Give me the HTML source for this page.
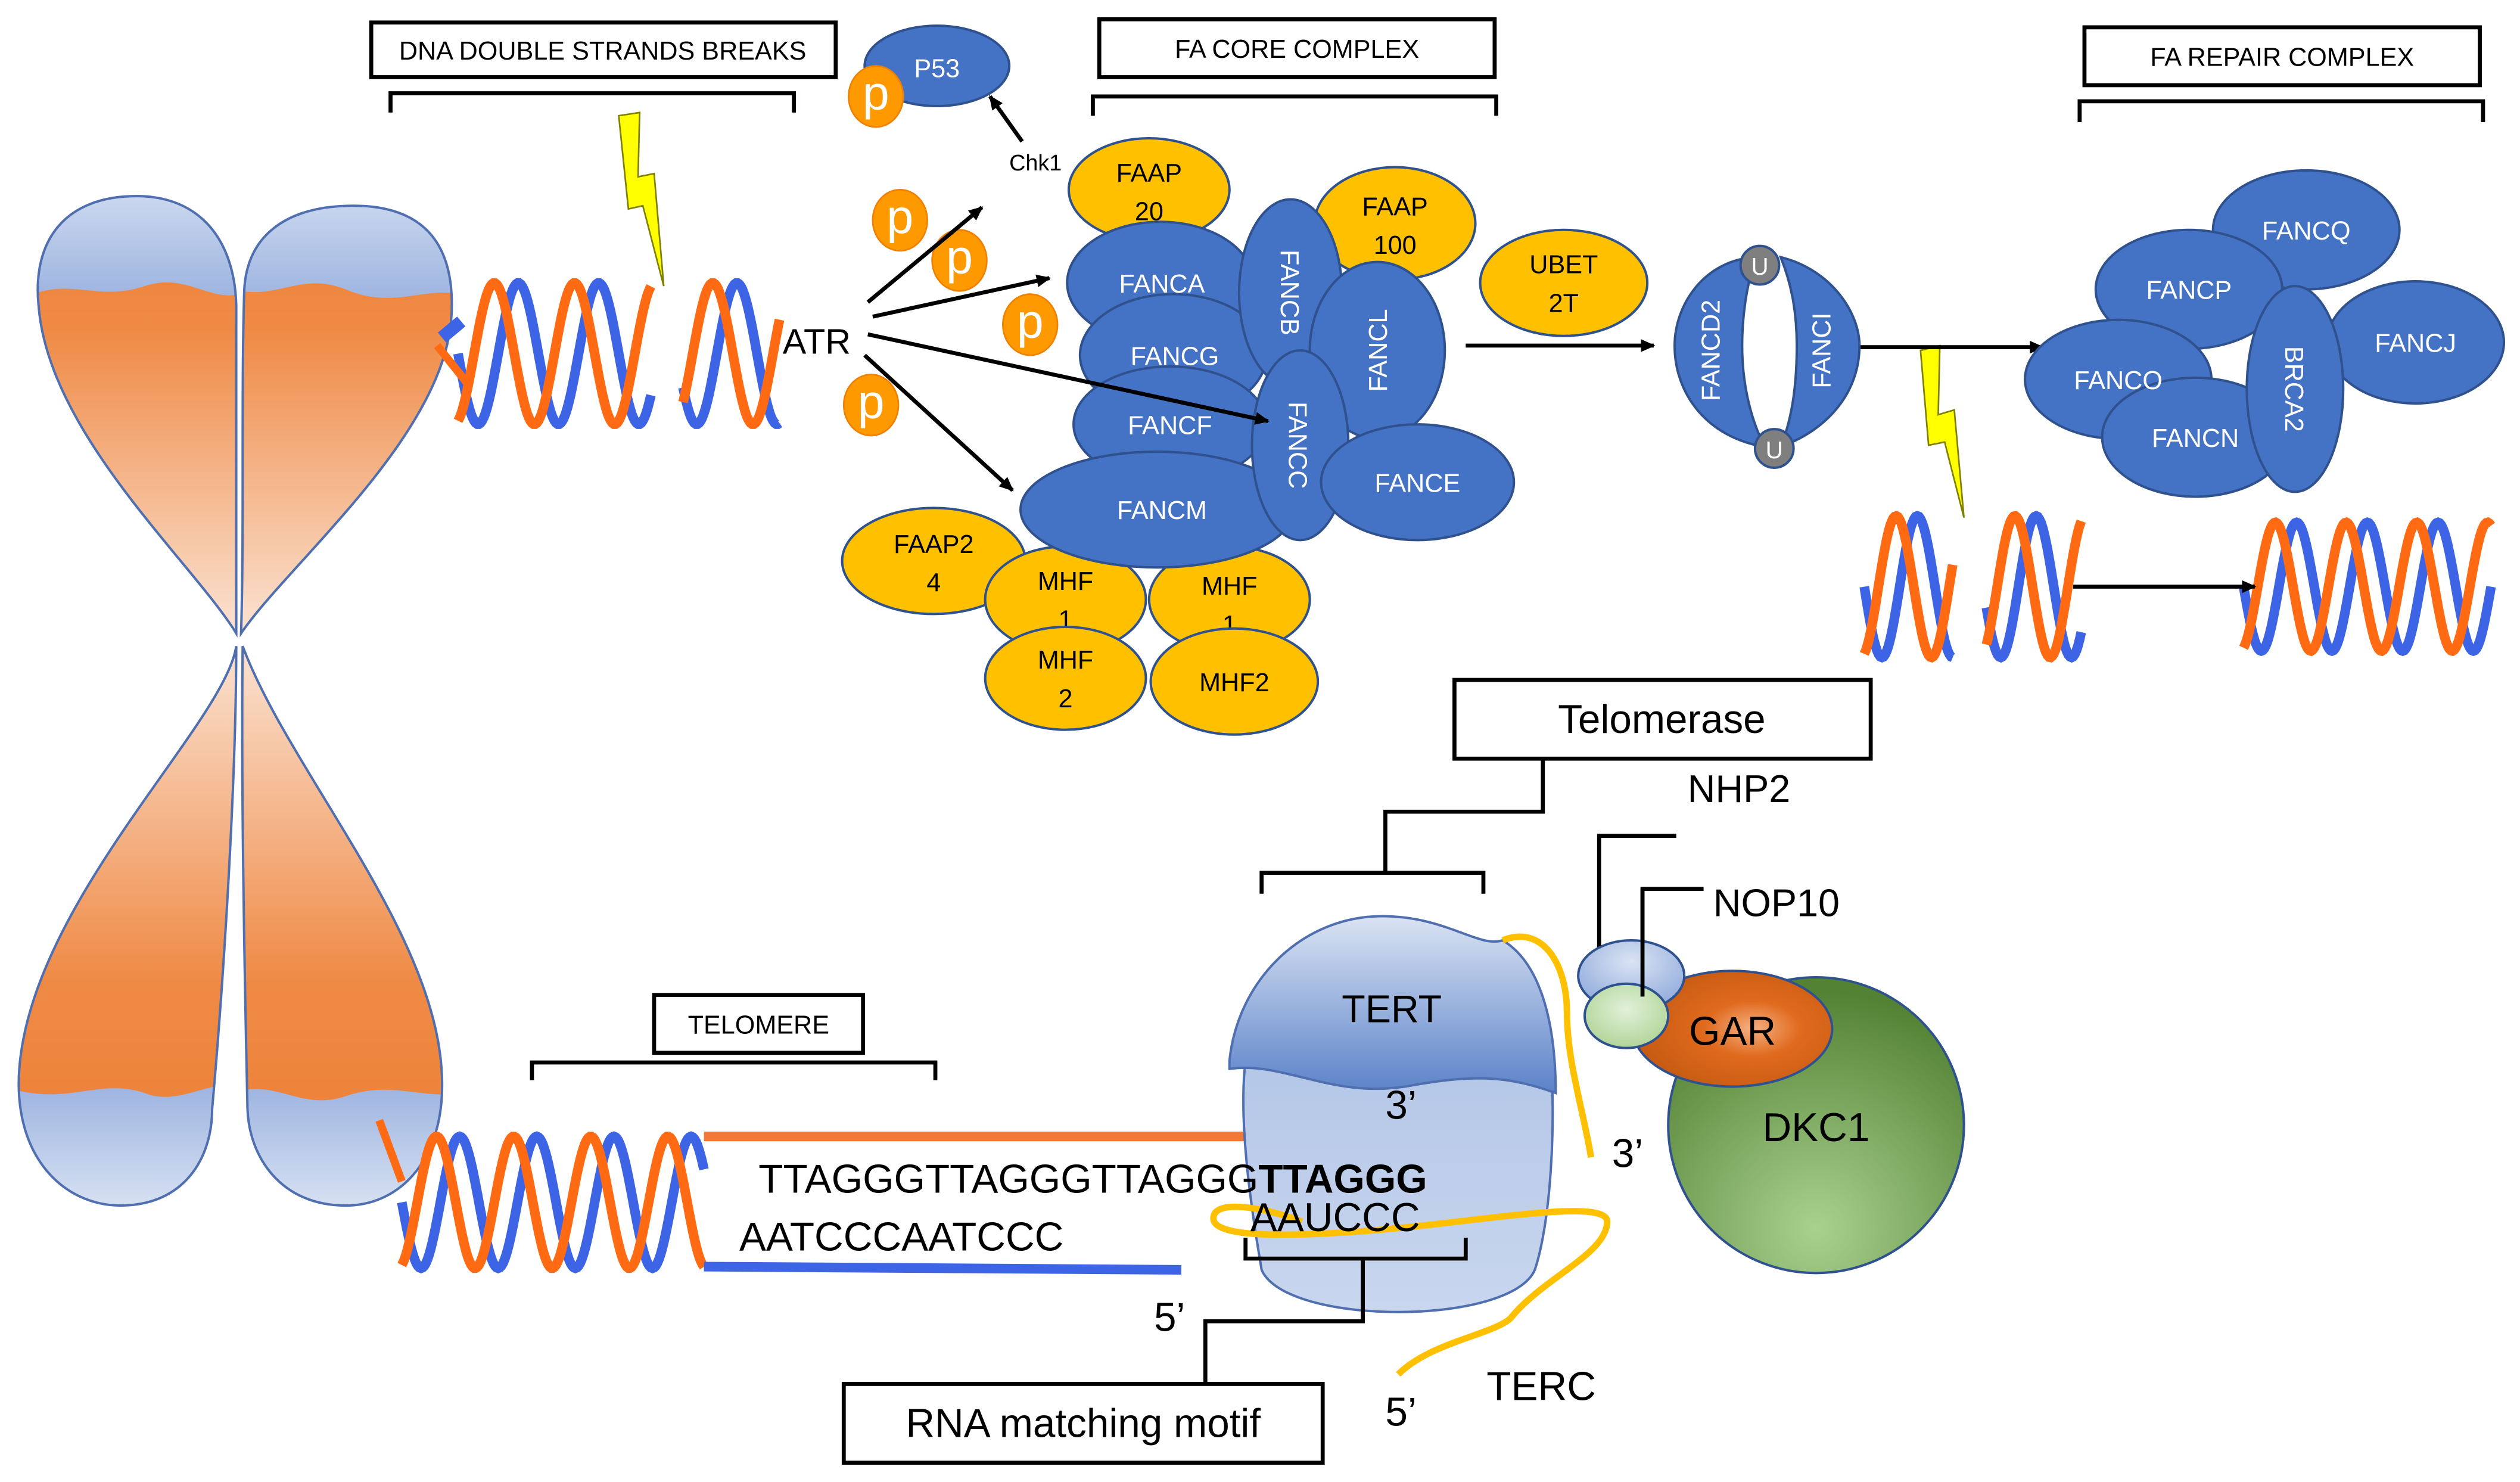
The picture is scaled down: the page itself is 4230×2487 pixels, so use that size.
<!DOCTYPE html>
<html><head><meta charset="utf-8"><style>
html,body{margin:0;padding:0;background:#fff}
svg{display:block}
text{font-family:"Liberation Sans",sans-serif}
</style></head><body>
<svg id="s" width="4230" height="2487" viewBox="0 0 1568 922" preserveAspectRatio="none" xmlns="http://www.w3.org/2000/svg">
<defs>
<linearGradient id="ou" x1="0" y1="0" x2="0" y2="1"><stop offset="0" stop-color="#ed7d31"/><stop offset="0.35" stop-color="#ef8a45"/><stop offset="1" stop-color="#fbe5d6"/></linearGradient>
<linearGradient id="ol" x1="0" y1="1" x2="0" y2="0"><stop offset="0" stop-color="#ed7d31"/><stop offset="0.4" stop-color="#ef8a45"/><stop offset="1" stop-color="#fbe5d6"/></linearGradient>
<linearGradient id="bc" x1="0" y1="0" x2="0" y2="1"><stop offset="0" stop-color="#dae3f3"/><stop offset="1" stop-color="#9db4e0"/></linearGradient>
<linearGradient id="bc2" x1="0" y1="1" x2="0" y2="0"><stop offset="0" stop-color="#dae3f3"/><stop offset="1" stop-color="#9db4e0"/></linearGradient>
<linearGradient id="tert" x1="0" y1="0" x2="0" y2="1"><stop offset="0" stop-color="#dae3f3"/><stop offset="1" stop-color="#5b82c9"/></linearGradient>
<linearGradient id="tert2" x1="0" y1="0" x2="0" y2="1"><stop offset="0" stop-color="#b4c7e7"/><stop offset="1" stop-color="#c9d6ee"/></linearGradient>
<radialGradient id="dk" cx="0.5" cy="0.85" r="0.8"><stop offset="0" stop-color="#a9d18e"/><stop offset="1" stop-color="#548235"/></radialGradient>
<radialGradient id="gar" cx="0.6" cy="0.5" r="0.6"><stop offset="0" stop-color="#f4b183"/><stop offset="0.4" stop-color="#e06a1e"/><stop offset="1" stop-color="#c55a11"/></radialGradient>
<radialGradient id="sb" cx="0.5" cy="0.3" r="0.7"><stop offset="0" stop-color="#dae3f3"/><stop offset="1" stop-color="#8faadc"/></radialGradient>
<radialGradient id="sg" cx="0.5" cy="0.4" r="0.7"><stop offset="0" stop-color="#e2f0d9"/><stop offset="1" stop-color="#a9d18e"/></radialGradient>
<marker id="ar" markerWidth="10" markerHeight="10" refX="8" refY="5" orient="auto" markerUnits="userSpaceOnUse"><path d="M0,1 L9,5 L0,9 Z" fill="#000"/></marker>
<clipPath id="c1"><path d="M147,394 C120,350 30,270 24,190 C20,150 40,122 85,122 C125,122 146,150 147,190 Z"/></clipPath>
<clipPath id="c2"><path d="M150,394 C152,330 150,240 152,180 C154,145 180,128 220,128 C262,128 283,150 281,195 C278,270 180,350 150,394 Z"/></clipPath>
<clipPath id="c3"><path d="M147,402 C140,450 20,560 12,665 C8,720 40,750 75,750 C115,750 132,720 132,690 C140,600 147,480 147,402 Z"/></clipPath>
<clipPath id="c4"><path d="M151,402 C180,480 272,580 275,670 C277,720 250,750 215,750 C175,750 155,720 154,690 C152,600 150,480 151,402 Z"/></clipPath>
</defs>

<g stroke="none">
<g clip-path="url(#c1)"><rect x="0" y="100" width="160" height="300" fill="url(#ou)"/><path d="M10,100 H160 V178 C135,195 120,168 90,178 C60,188 45,172 15,185 Z" fill="url(#bc)"/></g>
<g clip-path="url(#c2)"><rect x="140" y="100" width="160" height="300" fill="url(#ou)"/><path d="M140,100 H300 V188 C270,172 250,195 215,180 C185,168 170,190 140,178 Z" fill="url(#bc)"/></g>
<g clip-path="url(#c3)"><rect x="0" y="395" width="160" height="360" fill="url(#ol)"/><path d="M0,755 H160 V680 C135,665 115,690 90,680 C60,670 40,690 0,675 Z" fill="url(#bc2)"/></g>
<g clip-path="url(#c4)"><rect x="140" y="395" width="160" height="360" fill="url(#ol)"/><path d="M140,755 H300 V675 C270,690 250,670 215,682 C185,692 170,668 140,682 Z" fill="url(#bc2)"/></g>
</g>
<g fill="none" stroke="#4f6fb0" stroke-width="1.5">
<path d="M147,394 C120,350 30,270 24,190 C20,150 40,122 85,122 C125,122 146,150 147,190 Z"/>
<path d="M150,394 C152,330 150,240 152,180 C154,145 180,128 220,128 C262,128 283,150 281,195 C278,270 180,350 150,394 Z"/>
<path d="M147,402 C140,450 20,560 12,665 C8,720 40,750 75,750 C115,750 132,720 132,690 C140,600 147,480 147,402 Z"/>
<path d="M151,402 C180,480 272,580 275,670 C277,720 250,750 215,750 C175,750 155,720 154,690 C152,600 150,480 151,402 Z"/>
</g>

<g id="helices" fill="none" stroke-width="6"></g>

<line x1="438" y1="707" x2="885" y2="707" stroke="#f4773a" stroke-width="6"/>
<line x1="438" y1="788" x2="735" y2="790" stroke="#3e64e6" stroke-width="6"/>
<path d="M275,210 L287,200" stroke="#3e64e6" stroke-width="8"/>
<path d="M272,215 L292,240" stroke="#ff6a13" stroke-width="5"/>
<path d="M236,697 L250,735" stroke="#ff6a13" stroke-width="5"/>

<polygon points="385,72 398,70 397,110 407,108 413,178 400,128 391,130" fill="#ffff00" stroke="#7f7f00" stroke-width="1"/>
<polygon points="1195,218 1207,215 1206,258 1216,255 1222,322 1210,275 1200,277" fill="#ffff00" stroke="#7f7f00" stroke-width="1"/>

<g fill="#fff" stroke="#000" stroke-width="2.5">
<rect x="231" y="14" width="289" height="34"/>
<rect x="684" y="12" width="246" height="36"/>
<rect x="1297" y="17" width="246" height="36"/>
<rect x="905" y="423" width="259" height="49"/>
<rect x="407" y="619" width="130" height="36"/>
<rect x="525" y="861" width="298" height="49"/>
</g>
<g fill="none" stroke="#000" stroke-width="2.5">
<path d="M243,70 V58 H494 V70"/>
<path d="M680,72 V60 H931 V72"/>
<path d="M1294,76 V63 H1545 V76"/>
<path d="M331,672 V661 H582 V672"/>
<path d="M960,472 V505 H862 V543"/>
<path d="M785,556 V543 H923 V556"/>
<path d="M995,592 V520 H1043"/>
<path d="M1022,620 V553 H1060"/>
</g>
<g font-size="16" text-anchor="middle">
<text x="375" y="37">DNA DOUBLE STRANDS BREAKS</text>
<text x="807" y="36">FA CORE COMPLEX</text>
<text x="1420" y="41">FA REPAIR COMPLEX</text>
<text x="472" y="643">TELOMERE</text>
</g>
<text x="1034" y="456" font-size="25" text-anchor="middle">Telomerase</text>
<text x="674" y="894" font-size="25" text-anchor="middle">RNA matching motif</text>
<text x="1050" y="499" font-size="24">NHP2</text>
<text x="1066" y="570" font-size="24">NOP10</text>

<text x="628" y="106" font-size="14">Chk1</text>
<text x="487" y="220" font-size="22">ATR</text>

<ellipse cx="583" cy="41" rx="45" ry="25" fill="#4472c4" stroke="#2f528f" stroke-width="1.5"/>
<text x="583" y="48" font-size="16" fill="#fff" text-anchor="middle">P53</text>
<g fill="#ff9900" stroke="#f08000" stroke-width="1">
<ellipse cx="545" cy="60" rx="17" ry="19"/>
<ellipse cx="560" cy="137" rx="17" ry="19"/>
<ellipse cx="597" cy="162" rx="17" ry="19"/>
<ellipse cx="641" cy="202" rx="17" ry="19"/>
<ellipse cx="542" cy="252" rx="17" ry="19"/>
</g>
<g fill="#fff" font-size="30" text-anchor="middle">
<text x="545" y="68">p</text><text x="560" y="145">p</text><text x="597" y="170">p</text><text x="641" y="210">p</text><text x="542" y="260">p</text>
</g>

<g stroke="#2f528f" stroke-width="1.5">
<ellipse cx="715" cy="118" rx="50" ry="32" fill="#ffc000"/>
<ellipse cx="868" cy="139" rx="50" ry="35" fill="#ffc000"/>
<ellipse cx="581" cy="349" rx="57" ry="33" fill="#ffc000"/>
<ellipse cx="663" cy="373" rx="50" ry="33" fill="#ffc000"/>
<ellipse cx="765" cy="373" rx="50" ry="33" fill="#ffc000"/>
</g>
<g font-size="16" text-anchor="middle">
<text x="715" y="113">FAAP</text><text x="715" y="137">20</text>
<text x="868" y="134">FAAP</text><text x="868" y="158">100</text>
<text x="581" y="344">FAAP2</text><text x="581" y="368">4</text>
<text x="663" y="367">MHF</text><text x="663" y="391">1</text>
<text x="765" y="370">MHF</text><text x="765" y="394">1</text>
</g>
<g stroke="#2f528f" stroke-width="1.5" fill="#4472c4">
<ellipse cx="722" cy="176" rx="58" ry="38"/>
<ellipse cx="730" cy="221" rx="58" ry="38"/>
<ellipse cx="728" cy="264" rx="60" ry="36"/>
<ellipse cx="720" cy="317" rx="85" ry="36"/>
<ellipse cx="803" cy="182" rx="32" ry="58"/>
<ellipse cx="857" cy="218" rx="42" ry="55"/>
<ellipse cx="809" cy="277" rx="30" ry="59"/>
<ellipse cx="882" cy="300" rx="60" ry="36"/>
</g>
<g font-size="16" fill="#fff" text-anchor="middle">
<text x="723" y="182">FANCA</text>
<text x="731" y="227">FANCG</text>
<text x="728" y="270">FANCF</text>
<text x="723" y="323">FANCM</text>
<text x="882" y="306">FANCE</text>
<text transform="translate(797,182) rotate(90)">FANCB</text>
<text transform="translate(863,218) rotate(-90)">FANCL</text>
<text transform="translate(802,277) rotate(90)">FANCC</text>
</g>
<g stroke="#2f528f" stroke-width="1.5" fill="#ffc000">
<ellipse cx="663" cy="422" rx="50" ry="32"/>
<ellipse cx="768" cy="424" rx="52" ry="33"/>
<ellipse cx="973" cy="176" rx="52" ry="33"/>
</g>
<g font-size="16" text-anchor="middle">
<text x="663" y="416">MHF</text><text x="663" y="440">2</text>
<text x="768" y="430">MHF2</text>
<text x="973" y="170">UBET</text><text x="973" y="194">2T</text>
</g>

<!-- arrows on top -->
<g stroke="#000" stroke-width="2.5" marker-end="url(#ar)">
<line x1="636" y1="88" x2="616" y2="60"/>
<line x1="540" y1="188" x2="611" y2="129"/>
<line x1="543" y1="197" x2="653" y2="173"/>
<line x1="540" y1="208" x2="789" y2="262"/>
<line x1="538" y1="221" x2="630" y2="305"/>
<line x1="912" y1="215" x2="1029" y2="215"/>
<line x1="1157" y1="216" x2="1271" y2="216"/>
<line x1="1290" y1="365" x2="1403" y2="365"/>
</g>

<!-- FANCD2/FANCI -->
<g stroke="#2f528f" stroke-width="1.5" fill="#4472c4">
<path d="M1092,160 C1060,162 1042,190 1042,215 C1042,245 1062,272 1098,278 C1088,258 1084,236 1084,215 C1084,192 1088,175 1092,160 Z"/>
<path d="M1108,160 C1140,168 1157,195 1157,215 C1157,242 1140,266 1108,278 C1116,258 1118,236 1118,215 C1118,192 1114,175 1108,160 Z"/>
<circle cx="1095" cy="165" r="12" fill="#7f7f7f"/>
<circle cx="1104" cy="279" r="12" fill="#7f7f7f"/>
</g>
<g font-size="16" fill="#fff" text-anchor="middle">
<text transform="translate(1070,218) rotate(-90)">FANCD2</text>
<text transform="translate(1139,218) rotate(-90)">FANCI</text>
<text x="1095" y="171" font-size="15">U</text>
<text x="1104" y="285" font-size="15">U</text>
</g>

<g stroke="#2f528f" stroke-width="1.5" fill="#4472c4">
<ellipse cx="1435" cy="143" rx="58" ry="37"/>
<ellipse cx="1362" cy="180" rx="58" ry="37"/>
<ellipse cx="1503" cy="213" rx="55" ry="38"/>
<ellipse cx="1318" cy="236" rx="58" ry="37"/>
<ellipse cx="1366" cy="272" rx="58" ry="37"/>
<ellipse cx="1428" cy="242" rx="30" ry="64"/>
</g>
<g font-size="16" fill="#fff" text-anchor="middle">
<text x="1435" y="149">FANCQ</text>
<text x="1362" y="186">FANCP</text>
<text x="1503" y="219">FANCJ</text>
<text x="1318" y="242">FANCO</text>
<text x="1366" y="278">FANCN</text>
<text transform="translate(1422,242) rotate(90)">BRCA2</text>
</g>

<path d="M775,660 C770,700 780,760 785,790 C800,825 940,825 955,790 C965,760 968,700 965,660 Z" fill="url(#tert2)" stroke="#4f6fb0" stroke-width="1.5"/>
<path d="M765,660 C770,610 810,570 860,570 C900,570 920,590 935,585 C960,600 968,640 968,680 C940,670 920,668 880,675 C830,685 800,660 765,665 Z" fill="url(#tert)" stroke="#4f6fb0" stroke-width="1.5"/>
<text x="866" y="636" font-size="24" text-anchor="middle">TERT</text>

<circle cx="1130" cy="700" r="92" fill="url(#dk)" stroke="#2f528f" stroke-width="1.5"/>
<ellipse cx="1078" cy="640" rx="62" ry="36" fill="url(#gar)" stroke="#2f528f" stroke-width="1.5"/>
<ellipse cx="1015" cy="607" rx="33" ry="22" fill="url(#sb)" stroke="#2f528f" stroke-width="1.5"/>
<ellipse cx="1012" cy="632" rx="26" ry="20" fill="url(#sg)" stroke="#2f528f" stroke-width="1.5"/>
<path d="M1022,620 V553" stroke="#000" stroke-width="2.5"/>
<text x="1078" y="650" font-size="25" text-anchor="middle">GAR</text>
<text x="1130" y="710" font-size="25" text-anchor="middle">DKC1</text>

<path d="M935,585 C960,575 975,600 975,630 C975,660 985,690 990,720" fill="none" stroke="#ffc000" stroke-width="4"/>
<path d="M870,855 C890,835 930,830 940,820 C960,795 1000,780 1000,760 C1000,745 920,760 860,765 C800,770 755,770 755,758 C755,745 790,752 810,760" fill="none" stroke="#ffc000" stroke-width="4"/>

<g fill="none" stroke="#000" stroke-width="2.5">
<path d="M775,770 V783 H912 V770"/>
<path d="M848,783 V822 H750 V860"/>
</g>
<g font-size="25">
<text x="862" y="696">3’</text>
<text x="1003" y="726">3’</text>
<text x="472" y="742">TTAGGGTTAGGGTTAGGG<tspan font-weight="bold">TTAGGG</tspan></text>
<text x="778" y="766">AAUCCC</text>
<text x="460" y="778">AATCCCAATCCC</text>
<text x="718" y="828">5’</text>
<text x="925" y="871">TERC</text>
<text x="862" y="887">5’</text>
</g>
</svg>
<script>
(function(){
var g=document.getElementById('helices');
function helix(x0,x1,cy,A,P,ph){
  var cols=['#3e64e6','#ff6a13'];
  for(var k=0;k<2;k++){
    var d='';
    for(var x=x0;x<=x1;x+=1){
      var y=cy+A*Math.sin(2*Math.PI*(x-x0)/P+ph+k*Math.PI*0.6);
      d+=(x===x0?'M':'L')+x+','+y.toFixed(1);
    }
    var p=document.createElementNS('http://www.w3.org/2000/svg','path');
    p.setAttribute('d',d);p.setAttribute('stroke',cols[k]);
    g.appendChild(p);
  }
}
helix(285,405,220,44,50,0);
helix(425,485,220,44,50,0.5);
helix(250,438,748,41,48,0);
helix(1160,1215,365,44,44,0);
helix(1236,1295,365,44,44,0.3);
helix(1396,1550,365,40,44,0);
})();
</script>
</body></html>
